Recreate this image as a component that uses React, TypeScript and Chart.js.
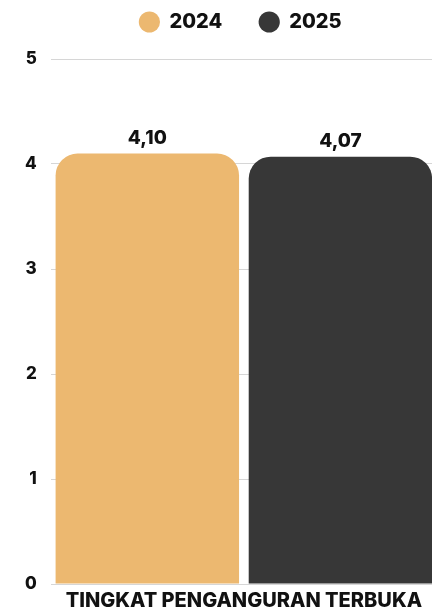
import { useEffect, useRef } from "react";
import { Chart, registerables } from "chart.js";

Chart.register(...registerables);

const categories = ["TINGKAT PENGANGURAN TERBUKA"];
const seriesLabels = ["2024", "2025"];
const values2024 = [4.1];
const values2025 = [4.07];
const yTickValues = [0, 1, 2, 3, 4, 5];
const seriesColors = ["#ECB870", "#373737"];

const FONT = "Inter, 'DejaVu Sans', sans-serif";
const WEIGHT = "800";
const TEXT = "#111111";

const valueLabelPlugin = {
  id: "valueLabels",
  afterDatasetsDraw(chart: any) {
    const ctx = chart.ctx;
    ctx.save();
    ctx.font = `${WEIGHT} 19px ${FONT}`;
    ctx.fillStyle = TEXT;
    ctx.textAlign = "center";
    ctx.textBaseline = "alphabetic";
    chart.data.datasets.forEach((ds: any, i: number) => {
      const meta = chart.getDatasetMeta(i);
      meta.data.forEach((bar: any, j: number) => {
        const v = ds.data[j] as number;
        ctx.fillText(v.toFixed(2).replace(".", ","), bar.x, bar.y - 10);
      });
    });
    ctx.restore();
  },
};

// legend: wide gap between items, compact height
const legendFitPlugin = {
  id: "legendFit",
  beforeInit(chart: any) {
    const legend = chart.legend;
    if (!legend) return;
    const origFit = legend.fit;
    legend.fit = function () {
      origFit.call(this);
      this.height = 59;
      if (this.lineWidths) this.lineWidths = this.lineWidths.map((w: number) => w - 33);
    };
    const origDraw = legend._draw;
    legend._draw = function () {
      this.ctx.save();
      this.ctx.translate(0, -25);
      origDraw.call(this);
      this.ctx.restore();
    };
  },
};

export default function App() {
  const canvasRef = useRef<HTMLCanvasElement | null>(null);

  useEffect(() => {
    if (!canvasRef.current) return;
    const makeDataset = (i: number, data: number[]) => ({
      label: seriesLabels[i],
      data,
      backgroundColor: seriesColors[i],
      borderRadius: { topLeft: 22, topRight: 22, bottomLeft: 0, bottomRight: 0 },
      borderSkipped: false,
      categoryPercentage: 1,
      barPercentage: 0.95,
    });
    const chart = new Chart(canvasRef.current, {
      type: "bar",
      data: {
        labels: categories,
        datasets: [makeDataset(0, values2024), makeDataset(1, values2025)],
      },
      options: {
        responsive: false,
        animation: false,
        devicePixelRatio: 1,
        layout: { padding: { top: 0, left: 11, right: 0, bottom: 0 } },
        plugins: {
          legend: {
            display: true,
            position: "top",
            labels: {
              usePointStyle: true,
              pointStyle: "circle",
              boxWidth: 20,
              boxHeight: 15,
              padding: 37,
              color: TEXT,
              font: { family: FONT, size: 20, weight: WEIGHT },
            },
          },
          tooltip: { enabled: false },
        },
        scales: {
          x: {
            grid: { display: false, drawTicks: false },
            border: { display: false },
            ticks: {
              color: TEXT,
              font: { family: FONT, size: 20, weight: WEIGHT },
              padding: 5,
              maxRotation: 0,
              minRotation: 0,
              autoSkip: false,
            },
            afterFit(scale: any) {
              scale.paddingLeft = 0;
              scale.paddingRight = 0;
              scale.height = 29;
            },
          },
          y: {
            min: yTickValues[0],
            max: yTickValues[yTickValues.length - 1],
            grid: { color: "#d6d6d6", lineWidth: 1, drawTicks: false },
            border: { display: false },
            ticks: {
              stepSize: 1,
              color: TEXT,
              padding: 14,
              font: { family: FONT, size: 17, weight: WEIGHT },
            },
          },
        },
      },
      plugins: [valueLabelPlugin, legendFitPlugin],
    });
    return () => chart.destroy();
  }, []);

  return (
    <div
      style={{
        position: "absolute",
        left: 0,
        top: 0,
        width: 432,
        height: 613,
        overflow: "hidden",
        background: "#ffffff",
      }}
    >
      <canvas ref={canvasRef} width={437} height={613} style={{ display: "block" }} />
    </div>
  );
}
